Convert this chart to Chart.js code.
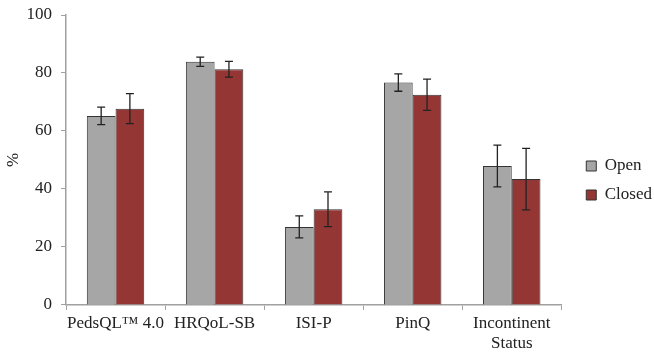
<!DOCTYPE html>
<html>
<head>
<meta charset="UTF-8">
<title>Open vs Closed</title>
<script src="https://cdn.jsdelivr.net/npm/chart.js"></script>
<style>
  html, body { margin: 0; padding: 0; background: #fff; }
</style>
</head>
<body>
<canvas id="chart" width="654" height="359"></canvas>
<script>
// data
const categories = ['PedsQL\u2122 4.0', 'HRQoL-SB', 'ISI-P', 'PinQ', ['Incontinent', 'Status']];
const openValues = [65.2, 83.9, 26.9, 76.7, 47.9];
const openErrors = [3.0, 1.6, 3.8, 3.0, 7.2];
const closedValues = [67.7, 81.3, 33.0, 72.5, 43.4];
const closedErrors = [5.2, 2.7, 6.0, 5.4, 10.6];
const yTicks = [0, 20, 40, 60, 80, 100];

const serif = '"Liberation Serif", "DejaVu Serif", serif';

// error bars drawn from the data through the y scale
const errorBars = {
    id: 'errorBars',
    afterDatasetsDraw(chart) {
        const ctx = chart.ctx;
        const y = chart.scales.y;
        ctx.save();
        ctx.strokeStyle = '#222';
        ctx.lineWidth = 1.3;
        chart.data.datasets.forEach((ds, i) => {
            const meta = chart.getDatasetMeta(i);
            meta.data.forEach((bar, j) => {
                const v = ds.data[j], e = ds.errors[j];
                const top = y.getPixelForValue(v + e);
                const bot = y.getPixelForValue(v - e);
                ctx.beginPath();
                ctx.moveTo(bar.x, top); ctx.lineTo(bar.x, bot);
                ctx.moveTo(bar.x - 4, top); ctx.lineTo(bar.x + 4, top);
                ctx.moveTo(bar.x - 4, bot); ctx.lineTo(bar.x + 4, bot);
                ctx.stroke();
            });
        });
        ctx.restore();
    }
};

// push the legend a bit away from the plot (more gap on its left side)
const legendShift = {
    id: 'legendShift',
    afterLayout(chart) {
        if (chart.legend) {
            chart.legend.left += 13;
            chart.legend.right += 13;
        }
    }
};

new Chart(document.getElementById('chart'), {
    type: 'bar',
    data: {
        labels: categories,
        datasets: [
            {
                label: 'Open',
                data: openValues,
                errors: openErrors,
                backgroundColor: '#a6a6a6',
                borderColor: '#333',
                borderWidth: 1
            },
            {
                label: 'Closed',
                data: closedValues,
                errors: closedErrors,
                backgroundColor: '#943634',
                borderColor: '#333',
                borderWidth: 1
            }
        ]
    },
    options: {
        responsive: false,
        animation: false,
        layout: { padding: { top: 4, right: 5, bottom: 2, left: 0 } },
        datasets: { bar: { barPercentage: 1, categoryPercentage: 0.58 } },
        plugins: {
            tooltip: { enabled: false },
            legend: {
                position: 'right',
                labels: {
                    color: '#222',
                    font: { family: serif, size: 17 },
                    boxWidth: 10,
                    boxHeight: 10,
                    padding: 12,
                    useBorderRadius: false
                }
            }
        },
        scales: {
            x: {
                grid: {
                    offset: true,
                    drawOnChartArea: false,
                    color: '#a0a0a0',
                    tickLength: 5
                },
                border: { color: '#a0a0a0', width: 1.5 },
                ticks: {
                    color: '#222',
                    font: { family: serif, size: 17, lineHeight: 1.15 },
                    maxRotation: 0,
                    autoSkip: false,
                    padding: 4
                }
            },
            y: {
                min: 0,
                max: 100,
                afterBuildTicks(scale) {
                    scale.ticks = yTicks.map(v => ({ value: v }));
                },
                afterFit(scale) {
                    scale.width = 66;
                    scale.paddingTop = 15;
                },
                grid: {
                    drawOnChartArea: false,
                    color: '#a0a0a0',
                    tickLength: 5
                },
                border: { color: '#a0a0a0', width: 1.5 },
                ticks: {
                    color: '#222',
                    font: { family: serif, size: 17 },
                    padding: 9
                },
                title: {
                    display: true,
                    text: '%',
                    color: '#222',
                    font: { family: serif, size: 17 },
                    padding: 3
                }
            }
        }
    },
    plugins: [errorBars, legendShift]
});
</script>
</body>
</html>
